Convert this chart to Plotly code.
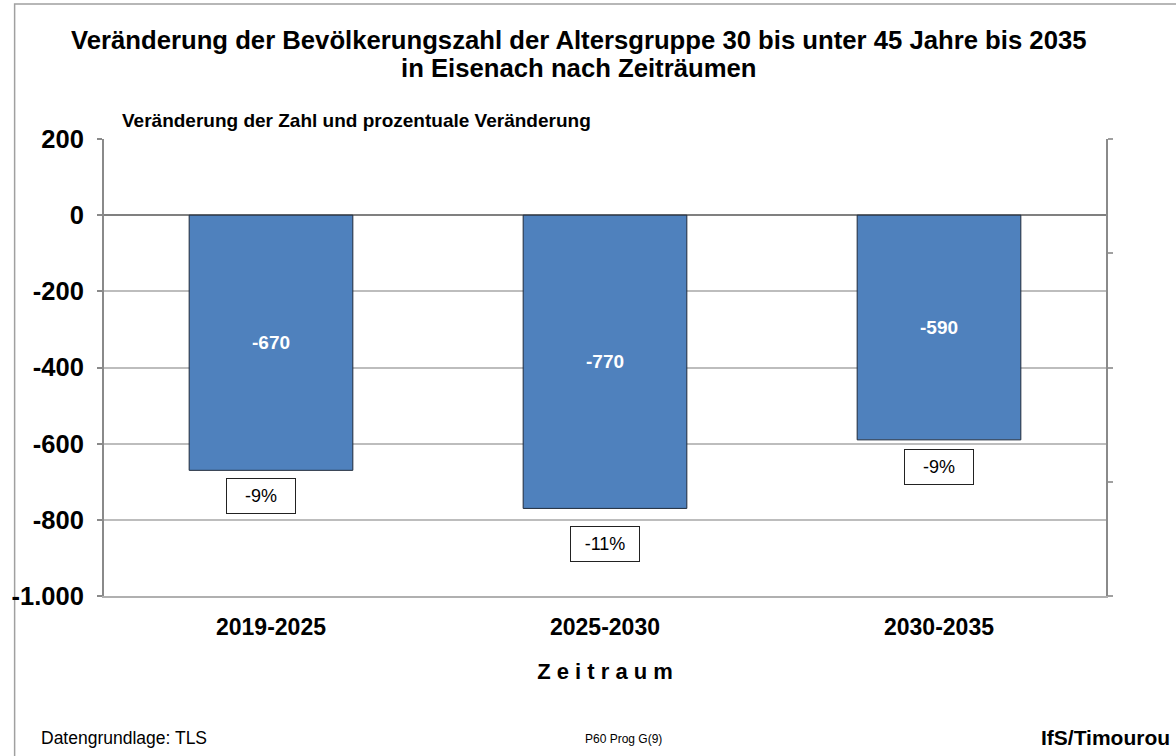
import plotly.graph_objects as go

categories = ["2019-2025", "2025-2030", "2030-2035"]
changes = [-670, -770, -590]
percent = [-9, -11, -9]
ytick_vals = [200, 0, -200, -400, -600, -800, -1000]
ytick_text = ["200", "0", "-200", "-400", "-600", "-800", "-1.000"]

FONT = "Arial, 'Liberation Sans', sans-serif"

fig = go.Figure()
fig.add_trace(go.Bar(
    x=categories, y=changes,
    marker=dict(color="#4F81BD", line=dict(color="#1F2A3A", width=1)),
    width=0.49,
    text=[str(v) for v in changes],
    textposition="inside", insidetextanchor="middle",
    textfont=dict(family=FONT, size=19, color="white", weight="bold"),
    showlegend=False, cliponaxis=False,
))
fig.add_trace(go.Scatter(x=categories, y=[None]*3, yaxis="y2", showlegend=False, hoverinfo="skip"))

# per-label placement offsets of the percentage boxes (pixels)
box_xshift = [-10, 0, 0]
box_yshift = [-8, -18, -9]
for i, (c, v, p) in enumerate(zip(categories, changes, percent)):
    fig.add_annotation(
        x=c, y=v, xref="x", yref="y", yanchor="top",
        xshift=box_xshift[i], yshift=box_yshift[i],
        text=f"{p}%", showarrow=False,
        font=dict(family=FONT, size=18, color="black"),
        bgcolor="white", bordercolor="#222222", borderwidth=1,
        borderpad=7, width=54,
    )

def px(x):
    return (x - 97) / 1009

def py(y):
    return (596 - y) / 457

fig.add_shape(type="rect", xref="paper", yref="paper",
              x0=px(7), x1=px(1190), y0=py(770), y1=py(4),
              line=dict(color="#A0A0A0", width=1.5), fillcolor="rgba(0,0,0,0)", layer="below")

fig.add_annotation(xref="paper", yref="paper", x=px(575), y=py(40),
                   text="<b>Veränderung der Bevölkerungszahl der Altersgruppe 30 bis unter 45 Jahre bis 2035</b>",
                   showarrow=False, xanchor="center", yanchor="middle",
                   font=dict(family=FONT, size=25.7, color="black"))
fig.add_annotation(xref="paper", yref="paper", x=px(575), y=py(68),
                   text="<b>in Eisenach nach Zeiträumen</b>",
                   showarrow=False, xanchor="center", yanchor="middle",
                   font=dict(family=FONT, size=25.7, color="black"))
fig.add_annotation(xref="paper", yref="paper", x=px(113), y=py(121),
                   text="<b>Veränderung der Zahl und prozentuale Veränderung</b>",
                   showarrow=False, xanchor="left", yanchor="middle",
                   font=dict(family=FONT, size=19, color="black"))
fig.add_annotation(xref="paper", yref="paper", x=px(32), y=py(738),
                   text="Datengrundlage: TLS", showarrow=False, xanchor="left", yanchor="middle",
                   font=dict(family=FONT, size=17.5, color="black"))
fig.add_annotation(xref="paper", yref="paper", x=px(620), y=py(739),
                   text="P60 Prog G(9)", showarrow=False, xanchor="center", yanchor="middle",
                   font=dict(family=FONT, size=12, color="black"))
fig.add_annotation(xref="paper", yref="paper", x=px(1172), y=py(737),
                   text="<b>IfS/Timourou</b>", showarrow=False, xanchor="right", yanchor="middle",
                   font=dict(family=FONT, size=21, color="black"))

fig.update_layout(
    width=1176, height=756,
    margin=dict(l=97, r=70, t=139, b=160),
    paper_bgcolor="white", plot_bgcolor="white",
    font=dict(family=FONT, color="black"),
    xaxis=dict(
        showline=True, linecolor="#B0B0B0", linewidth=1.5, mirror=False,
        tickfont=dict(family=FONT, size=23, weight="bold", color="black"),
        ticks="", ticklabelstandoff=10,
        title=dict(text="<b>Z e i t r a u m</b>", font=dict(family=FONT, size=22, color="black"), standoff=24),
    ),
    yaxis=dict(
        range=[-1000, 200], tickvals=ytick_vals, ticktext=ytick_text,
        tickfont=dict(family=FONT, size=25.5, weight="bold", color="black"),
        showgrid=True, gridcolor="#BDBDBD", gridwidth=1.5,
        zeroline=True, zerolinecolor="#808080", zerolinewidth=2,
        showline=True, linecolor="#8A8A8A", linewidth=2,
        ticks="outside", ticklen=5, tickcolor="#8A8A8A", tickwidth=1.5,
        ticklabelstandoff=8,
    ),
    yaxis2=dict(
        overlaying="y", side="right", range=[0, 4], tickvals=[0, 1, 2, 3, 4],
        showticklabels=False, showgrid=False, zeroline=False,
        showline=True, linecolor="#8A8A8A", linewidth=2,
        ticks="outside", ticklen=5, tickcolor="#A0A0A0", tickwidth=1.5,
    ),
)

fig.write_html("out.html", config={"displayModeBar": False},
               post_script="document.body.style.margin='0';document.body.style.overflow='hidden';")
